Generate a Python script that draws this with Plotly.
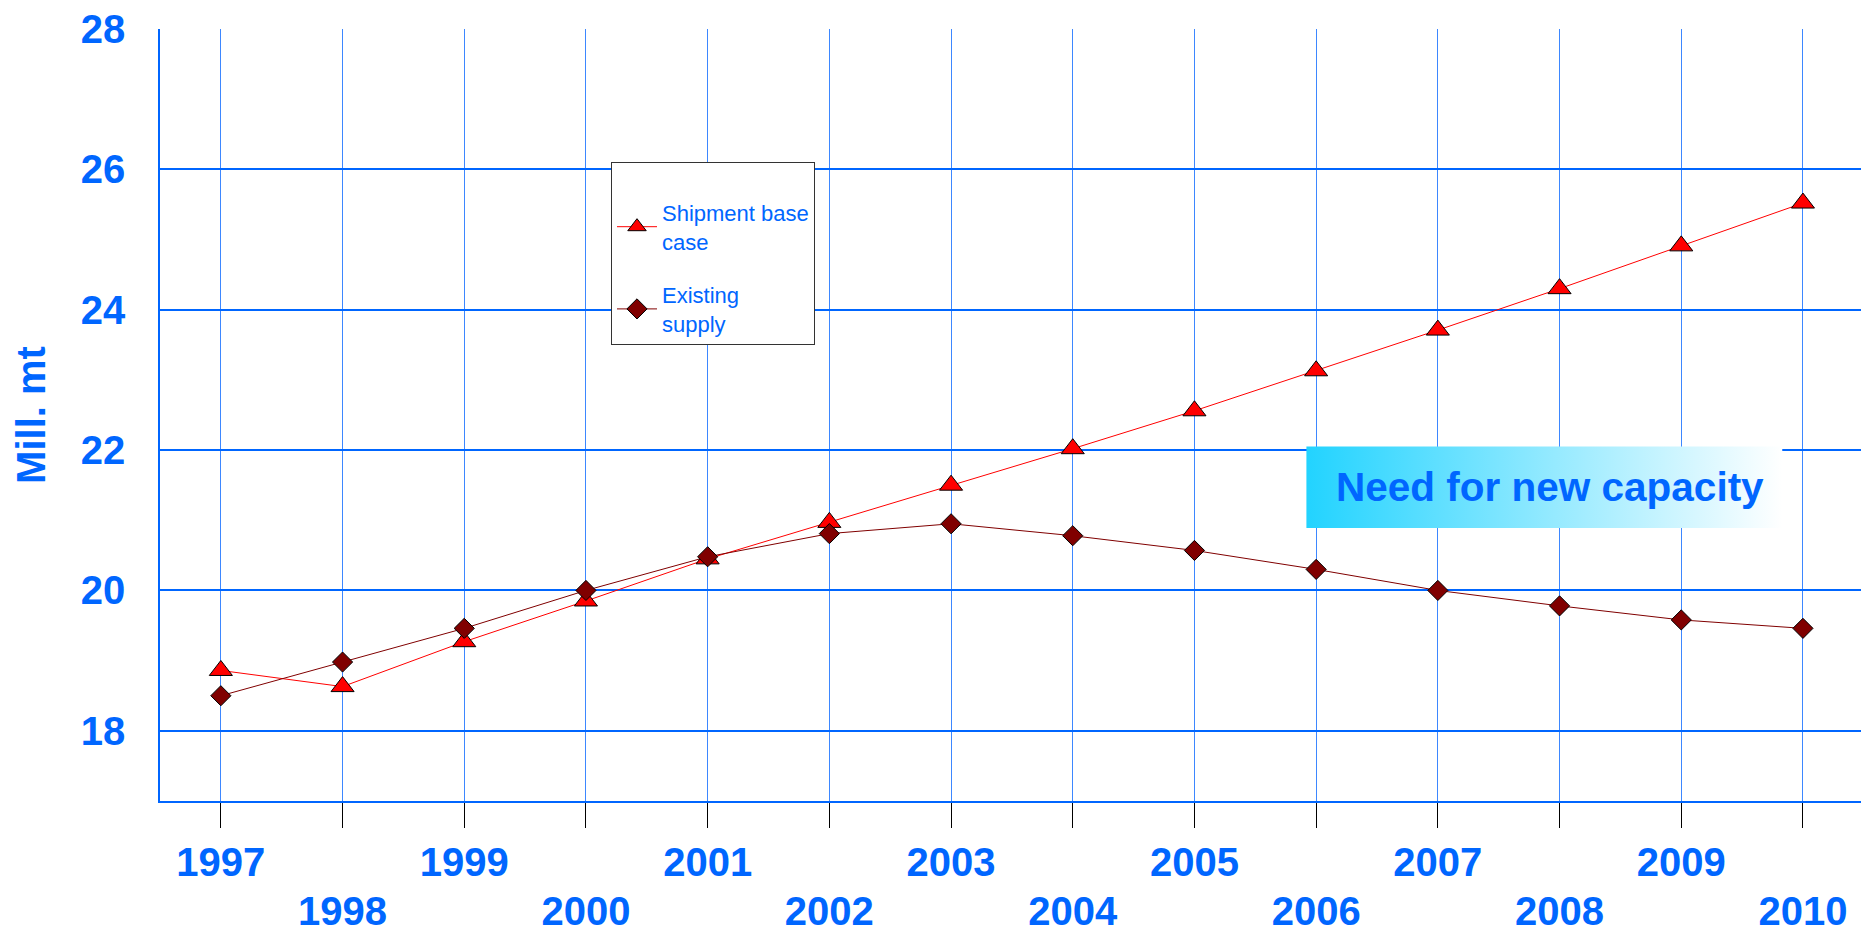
import plotly.graph_objects as go

years = list(range(1997, 2011))
shipment_base_case = [18.86, 18.63, 19.27, 19.85, 20.45, 20.97, 21.50, 22.02, 22.56, 23.13, 23.71, 24.30, 24.91, 25.52]
existing_supply = [18.50, 18.98, 19.46, 20.00, 20.48, 20.81, 20.95, 20.78, 20.57, 20.30, 20.00, 19.78, 19.58, 19.46]
y_ticks = [18, 20, 22, 24, 26, 28]
upper_labels = [str(y) if (y - 1997) % 2 == 0 else "" for y in years]
lower_labels = [str(y) if (y - 1997) % 2 == 1 else "" for y in years]

BLUE = "#0066FF"
FONT = "Arial, Liberation Sans, sans-serif"

# annotation box (layout decoration)
box_x0, box_x1 = 2005.92, 2009.83
box_y0, box_y1 = 20.89, 22.05

fig = go.Figure()

fig.add_trace(go.Scatter(
    x=[box_x0, box_x1, box_x1, box_x0, box_x0],
    y=[box_y0, box_y0, box_y1, box_y1, box_y0],
    mode="lines", line=dict(width=0), fill="toself",
    fillgradient=dict(type="horizontal", colorscale=[[0, "#22d3ff"], [1, "#ffffff"]]),
    showlegend=False, hoverinfo="skip",
))

fig.add_trace(go.Scatter(
    x=years, y=shipment_base_case, name="Shipment base<br>case",
    mode="lines+markers", legendgroup="a",
    line=dict(color="#ff0000", width=1),
    marker=dict(symbol="triangle-up", size=20, color="#ff0000", line=dict(color="#000000", width=1)),
))
fig.add_trace(go.Scatter(
    x=years, y=existing_supply, name="Existing<br>supply",
    mode="lines+markers", legendgroup="b",
    line=dict(color="#800000", width=1),
    marker=dict(symbol="diamond", size=15.5, color="#800000", line=dict(color="#000000", width=1)),
))
# second label row for the alternating year labels
fig.add_trace(go.Scatter(
    x=years, y=existing_supply, xaxis="x2", mode="markers",
    marker=dict(opacity=0), showlegend=False, hoverinfo="skip",
))

fig.add_annotation(
    x=(box_x0 + box_x1) / 2, y=(box_y0 + box_y1) / 2, xref="x", yref="y",
    text="Need for new capacity", showarrow=False, xshift=6,
    font=dict(family=FONT, size=40.5, color=BLUE, weight="bold"),
)

x_range = [1996.5, 1996.5 + 1701 / 121.7]
tick_font = dict(family=FONT, size=40, color=BLUE, weight="bold")

fig.update_layout(
    width=1861, height=930,
    margin=dict(l=160, r=0, t=29, b=129, autoexpand=False),
    plot_bgcolor="white", paper_bgcolor="white",
    font=dict(family=FONT, color=BLUE),
    legend=dict(
        x=(611 - 160) / 1701, y=(801 - 162) / 772, xanchor="left", yanchor="top",
        bgcolor="white", bordercolor="#333333", borderwidth=1,
        font=dict(family=FONT, size=22, color=BLUE),
        title=dict(text=" ", font=dict(size=22)),
        itemwidth=40, tracegroupgap=22,
    ),
    xaxis=dict(
        range=x_range, automargin=False,
        tickmode="array", tickvals=years, ticktext=upper_labels,
        ticks="outside", ticklen=25, tickcolor="#000000", tickwidth=1,
        ticklabelstandoff=0,
        tickfont=tick_font,
        showgrid=True, gridcolor="#3d87ff", gridwidth=1.4,
        showline=True, linecolor=BLUE, linewidth=2,
        zeroline=False,
    ),
    xaxis2=dict(
        range=x_range, overlaying="x", side="bottom", anchor="y", automargin=False,
        tickmode="array", tickvals=years, ticktext=lower_labels,
        ticks="outside", ticklen=25, tickcolor="rgba(0,0,0,0)",
        ticklabelstandoff=50,
        tickfont=tick_font,
        showgrid=False, showline=False, zeroline=False,
    ),
    yaxis=dict(
        range=[17, 28], automargin=False,
        tickmode="array", tickvals=y_ticks,
        ticks="", ticklabelstandoff=25,
        tickfont=tick_font,
        showgrid=True, gridcolor=BLUE, gridwidth=1.8,
        showline=True, linecolor=BLUE, linewidth=1.5,
        zeroline=False,
        title=dict(text="Mill. mt", font=dict(family=FONT, size=40, color=BLUE, weight="bold"), standoff=23),
    ),
)

fig.write_html("out.html")
